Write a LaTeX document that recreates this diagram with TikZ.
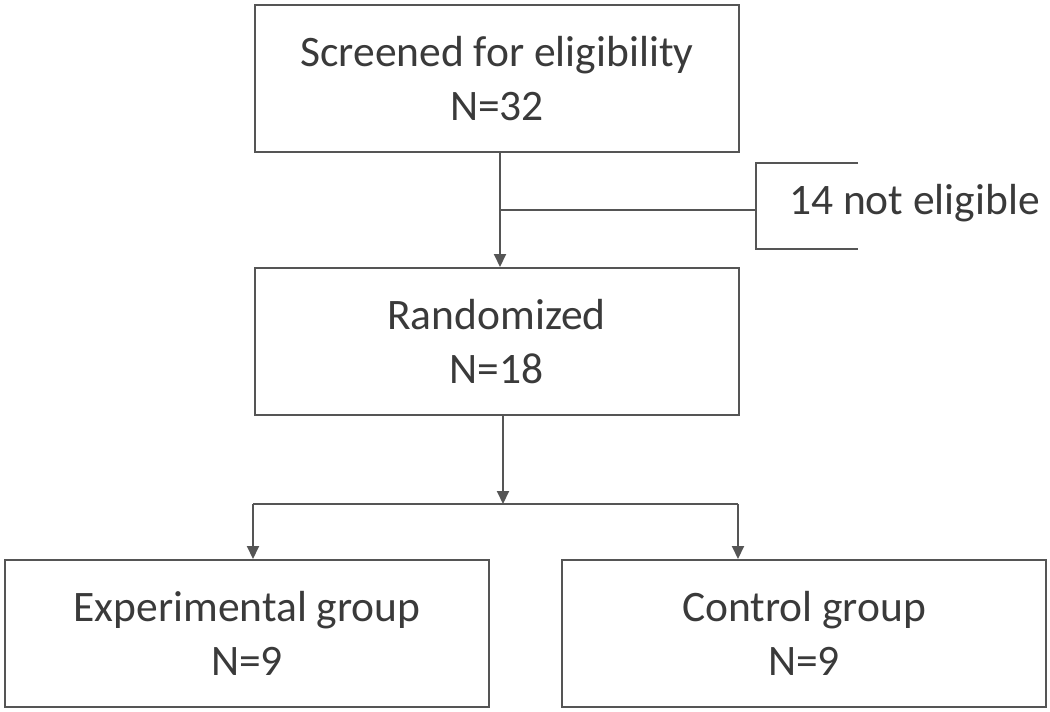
\documentclass[tikz,border=0pt]{standalone}
\usepackage{fontspec}
\setmainfont{Carlito}
\usetikzlibrary{arrows.meta}
\definecolor{lineGray}{HTML}{555555}
\definecolor{textGray}{HTML}{3A3A3A}

\begin{document}
\begin{tikzpicture}[x=1pt, y=-1pt,
    stage/.style={draw=lineGray, line width=2pt, minimum width=484pt, minimum height=147pt,
        align=center, text=textGray, font=\fontsize{43.5}{54}\selectfont, inner sep=0pt},
    link/.style={draw=lineGray, line width=2pt},
    flow/.style={link, -{Triangle[width=12pt, length=13pt]}}]
    \useasboundingbox (0,0) rectangle (1050,712);
    \node[stage] (screen) at (497,78.5) {Screened for eligibility\\N=32};
    \node[stage] (rand) at (496.5,341.5) {Randomized\\N=18};
    \node[stage] (expgrp) at (247,633.5) {Experimental group\\N=9};
    \node[stage] (ctrlgrp) at (804,633.5) {Control group\\N=9};
    \node[anchor=base west, text=textGray, font=\fontsize{43.5}{54}\selectfont, inner sep=0pt]
        (excl) at (789,214) {14 not eligible};
    % exclusion bracket
    \coordinate (split) at (500,210);
    \coordinate (bt) at (756,163);
    \coordinate (bb) at (756,249);
    \draw[flow] (screen.south -| split) -- (rand.north -| split);
    \draw[link] (split) -- (split -| bt);
    \draw[link] (858,163) -- (bt) -- (bb) -- (858,249);
    % randomisation fork
    \coordinate (fork) at (503,504);
    \coordinate (dropL) at (253,504);
    \coordinate (dropR) at (738,504);
    \draw[flow] (rand.south -| fork) -- (fork);
    \draw[link] (dropL) -- (dropR);
    \draw[flow] (dropL) -- (dropL |- expgrp.north);
    \draw[flow] (dropR) -- (dropR |- ctrlgrp.north);
\end{tikzpicture}
\end{document}
